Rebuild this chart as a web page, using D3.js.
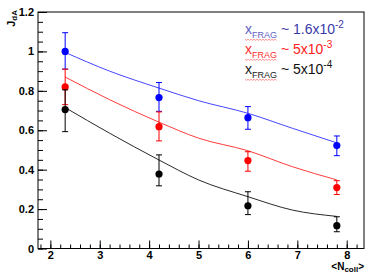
<!DOCTYPE html>
<html>
<head>
<meta charset="utf-8">
<script src="https://cdn.jsdelivr.net/npm/d3@7"></script>
<style>
  body { margin: 0; background: #fff; }
  svg { display: block; font-family: "Liberation Sans", Arial, sans-serif; }
  .tick text { font-weight: bold; font-size: 11px; fill: #000; }
  .tick line { stroke: #000; }
</style>
</head>
<body>
<svg id="chart" width="374" height="279"></svg>
<script>
// measured points, <Ncoll>
const ncoll = [2.3, 4.2, 6.0, 7.8];

// J_dA values and errors (up / down) per x_FRAG bin
const jBlue = [1.0, 0.766, 0.664, 0.522];
const eBlueUp = [0.095, 0.076, 0.056, 0.049];
const eBlueDn = [0.09, 0.07, 0.059, 0.051];

const jRed = [0.82, 0.618, 0.446, 0.309];
const eRedUp = [0.09, 0.075, 0.045, 0.035];
const eRedDn = [0.09, 0.072, 0.054, 0.035];

const jBlack = [0.705, 0.378, 0.217, 0.116];
const eBlackUp = [0.1, 0.097, 0.071, 0.045];
const eBlackDn = [0.112, 0.06, 0.045, 0.031];

// model curves
const curveX = [2.3, 3.2, 4.2, 5.0, 6.0, 6.9, 7.8];
const curveBlue = [0.995, 0.9, 0.814, 0.75, 0.686, 0.61, 0.536];
const curveRed = [0.87, 0.755, 0.641, 0.56, 0.496, 0.415, 0.348];
const curveBlack = [0.715, 0.585, 0.449, 0.348, 0.263, 0.195, 0.163];

// axis ticks
const xTicks = [2, 3, 4, 5, 6, 7, 8];
const xTickLabels = ["2", "3", "4", "5", "6", "7", "8"];
const yTicks = [0, 0.2, 0.4, 0.6, 0.8, 1.0, 1.2];
const yTickLabels = ["0", "0.2", "0.4", "0.6", "0.8", "1", "1.2"];

// legend
const legendVal = ["1.6x10", "5x10", "5x10"];
const legendExp = ["-2", "-3", "-4"];

const series = [
  { y: jBlue, up: eBlueUp, dn: eBlueDn, c: curveBlue, col: "#0000ff", line: "#4646ff", txt: "#3a3aa8", x: "#6262c4" },
  { y: jRed, up: eRedUp, dn: eRedDn, c: curveRed, col: "#ff0000", line: "#ff3c3c", txt: "#ff2020", x: "#ff3030" },
  { y: jBlack, up: eBlackUp, dn: eBlackDn, c: curveBlack, col: "#000000", line: "#2a2a2a", txt: "#111111", x: "#222222" }
];

const svg = d3.select("#chart");
const L = 38, R = 364, T = 12, B = 248.5;

const x = d3.scaleLinear().domain([1.75, 8.35]).range([L, R]);
const y = d3.scaleLinear().domain([0, 1.2]).range([B, T]);

// minor ticks
svg.append("g")
  .attr("transform", "translate(0," + B + ")")
  .call(d3.axisBottom(x).tickValues(d3.range(1.8, 8.35, 0.2)).tickSize(-4).tickFormat(""))
  .call(g => g.select(".domain").remove());
svg.append("g")
  .attr("transform", "translate(" + L + ",0)")
  .call(d3.axisLeft(y).tickValues(d3.range(0, 1.21, 0.05)).tickSize(-5).tickFormat(""))
  .call(g => g.select(".domain").remove());

// major ticks
svg.append("g")
  .attr("transform", "translate(0," + B + ")")
  .call(d3.axisBottom(x).tickValues(xTicks).tickSize(-8).tickPadding(3)
    .tickFormat((d, i) => xTickLabels[i]))
  .call(g => g.select(".domain").remove());
svg.append("g")
  .attr("transform", "translate(" + L + ",0)")
  .call(d3.axisLeft(y).tickValues(yTicks).tickSize(-9).tickPadding(4)
    .tickFormat((d, i) => yTickLabels[i]))
  .call(g => g.select(".domain").remove());

// frame
svg.append("rect")
  .attr("x", L).attr("y", T)
  .attr("width", R - L).attr("height", B - T)
  .attr("fill", "none").attr("stroke", "#000").attr("stroke-width", 1);

// axis titles
const xt = svg.append("text")
  .attr("x", R).attr("y", 270)
  .attr("text-anchor", "end")
  .attr("font-size", 10).attr("font-weight", "bold");
xt.append("tspan").text("<N");
xt.append("tspan").attr("font-size", 8).attr("dy", 2).text("coll");
xt.append("tspan").attr("dy", -2).text(">");

const yt = svg.append("text")
  .attr("transform", "translate(15,10) rotate(-90)")
  .attr("text-anchor", "end")
  .attr("font-size", 11).attr("font-weight", "bold");
yt.append("tspan").text("J");
yt.append("tspan").attr("font-size", 8).attr("dy", 2).text("dA");

// curves
const line = d3.line()
  .x(d => x(d[0]))
  .y(d => y(d[1]))
  .curve(d3.curveMonotoneX);

series.forEach(s => {
  svg.append("path")
    .datum(curveX.map((v, i) => [v, s.c[i]]))
    .attr("d", line)
    .attr("fill", "none")
    .attr("stroke", s.line)
    .attr("stroke-width", 1);
});

// error bars + markers
series.forEach(s => {
  const g = svg.append("g");
  ncoll.forEach((n, i) => {
    const cx = x(n);
    const yTop = y(s.y[i] + s.up[i]);
    const yBot = y(s.y[i] - s.dn[i]);
    g.append("line").attr("x1", cx).attr("x2", cx).attr("y1", yTop).attr("y2", yBot)
      .attr("stroke", s.col).attr("stroke-width", 1);
    [yTop, yBot].forEach(yy => {
      g.append("line").attr("x1", cx - 3).attr("x2", cx + 3).attr("y1", yy).attr("y2", yy)
        .attr("stroke", s.col).attr("stroke-width", 1);
    });
    g.append("circle").attr("cx", cx).attr("cy", y(s.y[i])).attr("r", 3.6)
      .attr("fill", s.col);
  });
});

// legend
series.forEach((s, i) => {
  const by = 34 + i * 20;
  const t = svg.append("text")
    .attr("x", 245).attr("y", by)
    .attr("font-size", 14);
  t.append("tspan").attr("fill", s.x).text("x");
  t.append("tspan").attr("fill", s.x).attr("font-size", 9).attr("dy", 4).text("FRAG");
  t.append("tspan").attr("fill", s.txt).attr("dy", -4).text(" ~ " + legendVal[i]);
  t.append("tspan").attr("fill", s.txt).attr("font-size", 10).attr("dy", -6).text(legendExp[i]);

  // spell-check squiggle under x_FRAG
  const pts = d3.range(0, 33, 1.5).map((v, k) => [245 + v, by + 5.5 + (k % 2 ? 0.8 : -0.2)]);
  svg.append("path")
    .attr("d", d3.line()(pts))
    .attr("fill", "none")
    .attr("stroke", "#ff4040")
    .attr("stroke-width", 0.7)
    .attr("opacity", 0.8);
});
</script>
</body>
</html>
